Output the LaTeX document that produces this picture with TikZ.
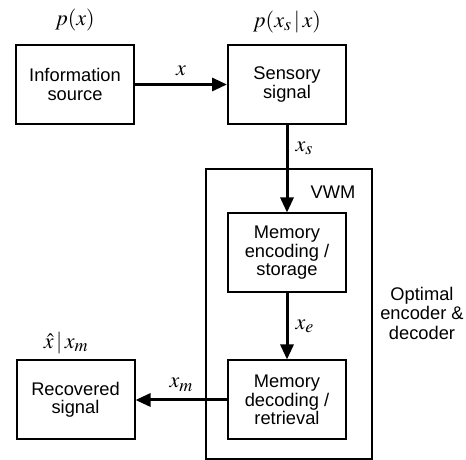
\documentclass[tikz,border=0pt]{standalone}
\usepackage{mathptmx}
\usepackage{fontspec}
\setmainfont{Liberation Sans}
\DeclareMathSizes{22}{22}{18}{14}
\usetikzlibrary{arrows.meta}
\begin{document}
\begin{tikzpicture}[x=1pt,y=1pt,
  block/.style={draw=black, line width=2pt, minimum width=118pt, minimum height=79pt,
    align=center, font=\fontsize{18.3}{18.5}\selectfont},
  flow/.style={line width=3pt, -{Triangle[length=15pt,width=13pt]}},
  var/.style={font=\fontsize{22}{26}\selectfont, inner sep=1pt},
  note/.style={align=center, font=\fontsize{18.3}{19.5}\selectfont}]
\useasboundingbox (0,0) rectangle (466,460);
% outer memory box
\node (vwm) [draw=black, line width=1.5pt, minimum width=166pt, minimum height=290pt] at (289,146) {};
\node (vwmlabel) [note] at (333,268) {VWM};
\node (optimal) [note] at (422,147) {Optimal\\encoder \&\\decoder};
% blocks
\node (src) [block] at (75,375.5) {Information\\source};
\node (sens) [block] at (287,375.5) {Sensory\\signal};
\node (enc) [block] at (287,207) {Memory\\encoding /\\storage};
\node (dec) [block] at (287,60) {Memory\\decoding /\\retrieval};
\node (rec) [block] at (75.5,60) {Recovered\\signal};
% distributions
\node (psrc) [var] at (75,440) {$p(x)$};
\node (psens) [var] at (287,438) {$p(x_s \,|\, x)$};
\node (prec) [var] at (66,117) {$\hat{x} \,|\, x_m$};
% arrows
\draw [flow] (src) -- node (lx) [var, above=6pt] {$x$} (sens);
\draw [flow] (sens) -- node (lxs) [var, pos=0.27, right=6pt] {$x_s$} (enc);
\draw [flow] (enc) -- node (lxe) [var, right=6pt] {$x_e$} (dec);
\draw [flow] (dec) -- node (lxm) [var, above=6pt] {$x_m$} (rec);
\end{tikzpicture}
\end{document}
